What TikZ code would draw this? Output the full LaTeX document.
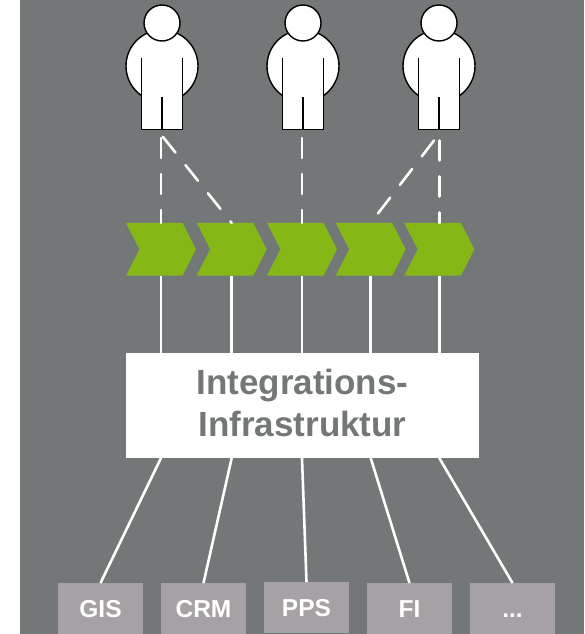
\documentclass[tikz,border=0pt]{standalone}
\usepackage{fontspec}
\setmainfont{Liberation Sans}
\usetikzlibrary{shapes.symbols}
\definecolor{bggray}{HTML}{737778}
\definecolor{boxgray}{HTML}{A5A1A5}
\definecolor{chevgreen}{HTML}{85B716}
\tikzset{
    head/.style = {circle, draw = black, fill = white, line width = 1.4pt, minimum size = 36pt, inner sep = 0pt},
    trunk/.style = {circle, draw = black, fill = white, line width = 1.4pt, minimum size = 72pt, inner sep = 0pt},
    legs/.style = {rectangle, fill = white, minimum width = 41.5pt, minimum height = 71.5pt, inner sep = 0pt, outer sep = 0pt},
    chev/.style = {signal, signal from = west, signal to = east, signal pointer angle = 126, fill = chevgreen, minimum width = 70pt, minimum height = 52.7pt, inner sep = 0pt, outer sep = 0pt},
    sysbox/.style = {rectangle, fill = boxgray, text = white, font = \fontsize{24.5}{28}\selectfont\bfseries, text height = 17.5pt, text depth = 0pt, minimum width = 85pt, minimum height = 51pt, inner sep = 0pt, outer sep = 0pt},
    link/.style = {white, line width = 2.6pt},
    dashlink/.style = {white, line width = 2.6pt, line cap = round, dash pattern = on 20pt off 16pt}
}

\begin{document}
\begin{tikzpicture}[x = 1pt, y = -1pt]
    \useasboundingbox (0,0) rectangle (584,634);
    \fill[bggray] (19.5,0) rectangle (584,634);
    % users
    \foreach \i/\x in {1/162, 2/303, 3/439}{
        \node[trunk] (T\i) at (\x,66) {};
        \node[legs] (L\i) at (\x,93.5) {};
        \draw[line width = 1.4pt] (L\i.north west) -- (L\i.south west) -- (L\i.south east) -- (L\i.north east);
        \draw[line width = 1.4pt] (\x,97) -- (L\i.south);
        \node[head] (H\i) at (\x,23) {};
    }
    % process chain
    \foreach \i/\x in {1/161, 2/231.7, 3/302, 4/370.7, 5/439.3}{
        \node[chev] (C\i) at (\x,249.3) {};
    }
    \node[fill = white, minimum width = 353pt, minimum height = 105pt, inner sep = 0pt, outer sep = 0pt] (I) at (302.5,405.5) {};
    \node[text = bggray, align = center, inner sep = 0pt, font = \fontsize{35}{42}\selectfont\bfseries] (It) at (302.5,403) {Integrations-\\Infrastruktur};
    % source systems
    \node[sysbox] (S1) at (100.5,608.5) {GIS};
    \node[sysbox] (S2) at (203.5,608.5) {CRM};
    \node[sysbox] (S3) at (306.5,607.5) {PPS};
    \node[sysbox] (S4) at (409.5,608.5) {FI};
    \node[sysbox] (S5) at (512.5,608.5) {...};
    % free ends below the users
    \coordinate (A1) at (161,138);
    \coordinate (B1) at (163,137);
    \coordinate (A2) at (302,138);
    \coordinate (A3) at (439.3,140.5);
    \coordinate (B3) at (434,140.5);
    \draw[dashlink] (A1) -- (C1.north);
    \draw[dashlink] (B1) -- (C2.north);
    \draw[dashlink] (A2) -- (C3.north);
    \draw[dashlink] (A3) -- (C5.north);
    \draw[dashlink] (B3) -- (C4.north);
    \foreach \i in {1,...,5}{
        \draw[link] (C\i.south) -- (C\i.south |- I.north);
        \draw[link] (C\i.south |- I.south) -- (S\i.north);
    }
\end{tikzpicture}
\end{document}
